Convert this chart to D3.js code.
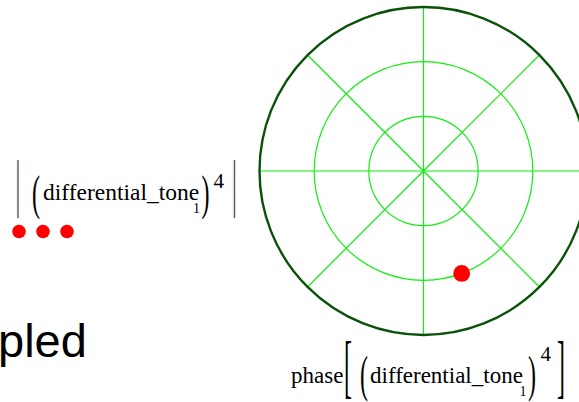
<!DOCTYPE html>
<html>
<head>
<meta charset="utf-8">
<script src="https://cdn.jsdelivr.net/npm/d3@7"></script>
<style>
  html, body { margin: 0; padding: 0; background: #fff; overflow: hidden; }
  svg { display: block; }
  .math { font-family: "Liberation Serif", "Times New Roman", Times, serif; }
  .caption { font-family: "Liberation Sans", Arial, Helvetica, sans-serif; }
</style>
</head>
<body>
<svg id="chart" width="579" height="402"></svg>
<script>
// Polar trace: magnitude and phase of the single sample
const magnitude = [1.0];
const phase = [-1.214];          // radians
// Radial grid rings and angular spokes
const ringValues = [0.5, 1.0, 1.5];
const spokeAngles = [0, 45, 90, 135, 180, 225, 270, 315]; // degrees
// Legend marker under the magnitude label
const legendMarkers = [0, 1, 2];

const svg = d3.select("#chart");
const cx = 423.5, cy = 171, R = 164;

const r = d3.scaleLinear().domain([0, d3.max(ringValues)]).range([0, R]);
const ang = d3.scaleLinear().domain([0, 360]).range([0, 2 * Math.PI]);

const plot = svg.append("g").attr("transform", `translate(${cx},${cy})`);

// spokes
plot.selectAll("line.spoke").data(spokeAngles).join("line")
  .attr("class", "spoke")
  .attr("x1", 0).attr("y1", 0)
  .attr("x2", d => r(d3.max(ringValues)) * Math.cos(ang(d)))
  .attr("y2", d => -r(d3.max(ringValues)) * Math.sin(ang(d)))
  .attr("stroke", "#11ee11").attr("stroke-width", 1.2);

// inner rings
plot.selectAll("circle.ring").data(ringValues.slice(0, -1)).join("circle")
  .attr("class", "ring")
  .attr("r", d => r(d))
  .attr("fill", "none")
  .attr("stroke", "#11ee11").attr("stroke-width", 1.2);

// outer frame circle
plot.append("circle")
  .attr("r", r(d3.max(ringValues)))
  .attr("fill", "none")
  .attr("stroke", "#0a520a").attr("stroke-width", 2.4);

// data point
plot.selectAll("circle.pt").data(magnitude.map((m, i) => ({ m, p: phase[i] }))).join("circle")
  .attr("class", "pt")
  .attr("cx", d => r(d.m) * Math.cos(d.p))
  .attr("cy", d => -r(d.m) * Math.sin(d.p))
  .attr("r", 8.4)
  .attr("fill", "#ff0000");

// ---- math-style labels ----
function glyph(g, ch, x, y, size, sy) {
  return g.append("text")
    .attr("class", "math")
    .attr("transform", `translate(${x},${y}) scale(1,${sy || 1})`)
    .style("font-size", size + "px")
    .attr("fill", "#000")
    .text(ch);
}

// |(differential_tone_1)^4|
const yl = svg.append("g");
glyph(yl, "|", 15.5, 204, 24, 2.62).attr("fill", "#444");
glyph(yl, "(", 32, 209, 24, 2.06);
glyph(yl, "differential_tone", 43, 200, 23.5);
glyph(yl, "1", 193, 213, 14);
glyph(yl, ")", 201.5, 209, 24, 2.06);
glyph(yl, "4", 213.5, 188, 21);
glyph(yl, "|", 232, 204, 24, 2.62).attr("fill", "#444");

// legend marker
yl.selectAll("circle.lg").data(legendMarkers).join("circle")
  .attr("class", "lg")
  .attr("cx", d => 19 + d * 24)
  .attr("cy", 231.5)
  .attr("r", 6.8)
  .attr("fill", "#ff0000");

// phase[(differential_tone_1)^4]
const xl = svg.append("g");
glyph(xl, "phase", 291, 383, 23);
glyph(xl, "[", 344, 390, 24, 2.95);
glyph(xl, "(", 360, 391, 24, 2.15);
glyph(xl, "differential_tone", 370, 383, 23);
glyph(xl, "1", 519.5, 396, 14);
glyph(xl, ")", 528, 391, 24, 2.15);
glyph(xl, "4", 540.5, 361, 21);
glyph(xl, "]", 557, 390, 24, 2.95);

// partially visible caption at lower left
svg.append("text")
  .attr("class", "caption")
  .attr("x", -2).attr("y", 357)
  .style("font-size", "47px")
  .attr("fill", "#000")
  .text("pled");
</script>
</body>
</html>
